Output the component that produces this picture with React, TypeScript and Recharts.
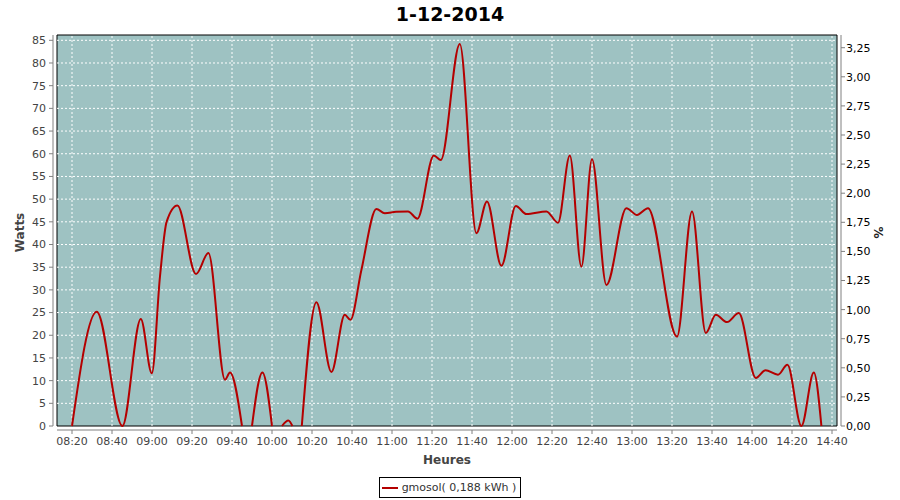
import React from 'react';
import {
  LineChart,
  Line,
  XAxis,
  YAxis,
  ReferenceArea,
  ReferenceLine,
  Legend,
} from 'recharts';

// ---- data (minutes since midnight, watts) ----
const minutes = [
  500, 512.4, 525.2, 534.4, 539.9, 544, 547.3, 552.7, 562, 568.2,
  576.5, 579, 585, 587.5, 590, 595.2, 600, 602.5, 605, 608.2,
  610.2, 612.5, 614.9, 622.2, 629.7, 636.4, 639.2, 644.7, 652.2, 656.4,
  662, 668, 672.7, 680.9, 684.4, 693.9, 702.2, 707.5, 714.7, 721.9,
  727.2, 737.2, 743, 748.9, 754.7, 760, 767.2, 777.2, 782.5, 788,
  802.5, 810, 816.9, 821.9, 827.5, 833.4, 841.9, 846.7, 853, 857.7,
  864.7, 870.9, 874.7,
];
const watts: (number | null)[] = [
  0, 25.2, 0, 23.6, 11.6, 33, 45, 48.6, 33.5, 38.1,
  10.2, 11.8, 0, null, 0, 11.8, 0, null, 0, 1.2,
  0, null, 0, 27.3, 11.9, 24.5, 23.4, 34.4, 47.8, 46.9,
  47.2, 47.3, 45.7, 59.6, 58.6, 84.2, 42.5, 49.5, 35.3, 48.5,
  46.7, 47.3, 44.8, 59.6, 35.1, 58.8, 31.1, 48.0, 46.5, 48.0,
  19.7, 47.3, 20.5, 24.5, 22.9, 24.9, 10.6, 12.3, 11.3, 13.5,
  0, 11.8, 0,
];

const xTickLabels = [
  '08:20', '08:40', '09:00', '09:20', '09:40', '10:00', '10:20', '10:40',
  '11:00', '11:20', '11:40', '12:00', '12:20', '12:40', '13:00', '13:20',
  '13:40', '14:00', '14:20', '14:40',
];
const wattTicks = [0, 5, 10, 15, 20, 25, 30, 35, 40, 45, 50, 55, 60, 65, 70, 75, 80, 85];
const percentTicks = [0, 0.25, 0.5, 0.75, 1, 1.25, 1.5, 1.75, 2, 2.25, 2.5, 2.75, 3, 3.25];

const seriesName = 'gmosol( 0,188 kWh )';
const title = '1-12-2014';

// ---- scale ranges ----
const X_MIN = 490.5;
const X_MAX = 884.5;
const IN_X_MIN = 492.5;
const IN_X_MAX = 882.5;
const W_MIN = -0.88;
const W_MAX = 86.17;
const P_MIN = -0.0343;
const P_MAX = 3.359;

const toMin = (s: string) => {
  const [h, m] = s.split(':').map(Number);
  return h * 60 + m;
};
const xTicks = xTickLabels.map(toMin);
const fmtTime = (v: number) => {
  const h = Math.floor(v / 60);
  const m = Math.round(v - h * 60);
  return `${String(h).padStart(2, '0')}:${String(m).padStart(2, '0')}`;
};

const data = minutes.map((t, i) => ({ t, w: watts[i] }));

const FONT = 'DejaVu Sans';
const TEAL = '#9EC2C2';
const RED = '#B40000';
const AXIS_GRAY = '#808080';

const LegendBox = () => (
  <div style={{ display: 'flex', justifyContent: 'center', paddingTop: 7 }}>
    <div
      style={{
        border: '1px solid #000',
        height: 19,
        lineHeight: '19px',
        display: 'flex',
        alignItems: 'center',
        padding: '0 4px 0 2px',
        fontFamily: FONT,
        fontSize: 11,
        color: '#333',
        background: '#fff',
      }}
    >
      <span style={{ display: 'inline-block', width: 16, height: 2, background: RED, marginRight: 4 }} />
      <span>{seriesName}</span>
    </div>
  </div>
);

export default function App() {
  return (
    <div style={{ position: 'absolute', left: 0, top: 0, width: 900, height: 500, background: '#fff' }}>
      <div
        style={{
          position: 'absolute',
          left: 0,
          top: 0,
          width: 900,
          height: 28,
          lineHeight: '28px',
          textAlign: 'center',
          fontFamily: FONT,
          fontWeight: 'bold',
          fontSize: 19,
          color: '#000',
        }}
      >
        {title}
      </div>
      <LineChart
        width={900}
        height={500}
        data={data}
        margin={{ top: 35, right: 0, bottom: 0, left: 0 }}
        style={{ fontFamily: FONT }}
      >
        <XAxis
          dataKey="t"
          type="number"
          domain={[X_MIN, X_MAX]}
          allowDataOverflow
          ticks={xTicks}
          tickFormatter={fmtTime}
          interval={0}
          axisLine={false}
          tickLine={{ stroke: AXIS_GRAY }}
          tickSize={4}
          tickMargin={3}
          tick={{ fill: '#444', fontSize: 11, fontFamily: FONT }}
          height={40}
          label={{ value: 'Heures', position: 'center', dy: 10, fill: '#444', fontSize: 12, fontWeight: 'bold', fontFamily: FONT }}
        />
        <YAxis
          yAxisId="left"
          type="number"
          domain={[W_MIN, W_MAX]}
          allowDataOverflow
          ticks={wattTicks}
          interval={0}
          axisLine={false}
          tickLine={{ stroke: AXIS_GRAY }}
          tickSize={4}
          tickMargin={3}
          tick={{ fill: '#444', fontSize: 11, fontFamily: FONT }}
          width={53}
          label={{ value: 'Watts', angle: -90, position: 'center', dx: -6.5, fill: '#444', fontSize: 12, fontWeight: 'bold', fontFamily: FONT }}
        />
        <YAxis
          yAxisId="right"
          orientation="right"
          type="number"
          domain={[P_MIN, P_MAX]}
          allowDataOverflow
          ticks={percentTicks}
          interval={0}
          tickFormatter={(v: number) => v.toFixed(2).replace('.', ',')}
          axisLine={false}
          tickLine={{ stroke: AXIS_GRAY }}
          tickSize={4}
          tickMargin={1}
          tick={{ fill: '#000', fontSize: 11, fontFamily: FONT }}
          width={59}
          label={{ value: '%', angle: 90, position: 'center', dx: 7.5, fill: '#222', fontSize: 12, fontWeight: 'bold', fontFamily: FONT }}
        />
        <ReferenceArea
          yAxisId="left"
          x1={IN_X_MIN}
          x2={IN_X_MAX}
          y1={0}
          y2={W_MAX}
          fill={TEAL}
          fillOpacity={1}
          stroke="none"
          ifOverflow="visible"
        />
        {wattTicks.filter((v) => v > 0).map((v) => (
          <ReferenceLine
            key={`h${v}`}
            yAxisId="left"
            segment={[{ x: IN_X_MIN, y: v }, { x: IN_X_MAX, y: v }]}
            stroke="#fff"
            strokeDasharray="2 2"
            strokeWidth={1}
            ifOverflow="visible"
          />
        ))}
        {xTicks.map((v) => (
          <ReferenceLine
            key={`v${v}`}
            yAxisId="left"
            segment={[{ x: v, y: 0 }, { x: v, y: W_MAX }]}
            stroke="#fff"
            strokeDasharray="2 2"
            strokeWidth={1}
            ifOverflow="visible"
          />
        ))}
        {/* offset axis lines */}
        <ReferenceLine
          yAxisId="left"
          segment={[{ x: X_MIN, y: 0 }, { x: X_MIN, y: W_MAX }]}
          stroke={AXIS_GRAY}
          ifOverflow="visible"
        />
        <ReferenceLine
          yAxisId="left"
          segment={[{ x: X_MAX, y: 0 }, { x: X_MAX, y: W_MAX }]}
          stroke={AXIS_GRAY}
          ifOverflow="visible"
        />
        <ReferenceLine
          yAxisId="left"
          segment={[{ x: IN_X_MIN, y: W_MIN }, { x: IN_X_MAX, y: W_MIN }]}
          stroke={AXIS_GRAY}
          ifOverflow="visible"
        />
        <Line
          yAxisId="left"
          dataKey="w"
          name={seriesName}
          type="monotone"
          stroke={RED}
          strokeWidth={2}
          dot={false}
          activeDot={false}
          connectNulls={false}
          isAnimationActive={false}
        />
        <ReferenceArea
          yAxisId="left"
          x1={IN_X_MIN}
          x2={IN_X_MAX}
          y1={0}
          y2={W_MAX}
          fill="none"
          stroke="#000"
          strokeWidth={1}
          ifOverflow="visible"
        />
        <Legend verticalAlign="bottom" height={30} content={() => <LegendBox />} />
      </LineChart>
    </div>
  );
}
